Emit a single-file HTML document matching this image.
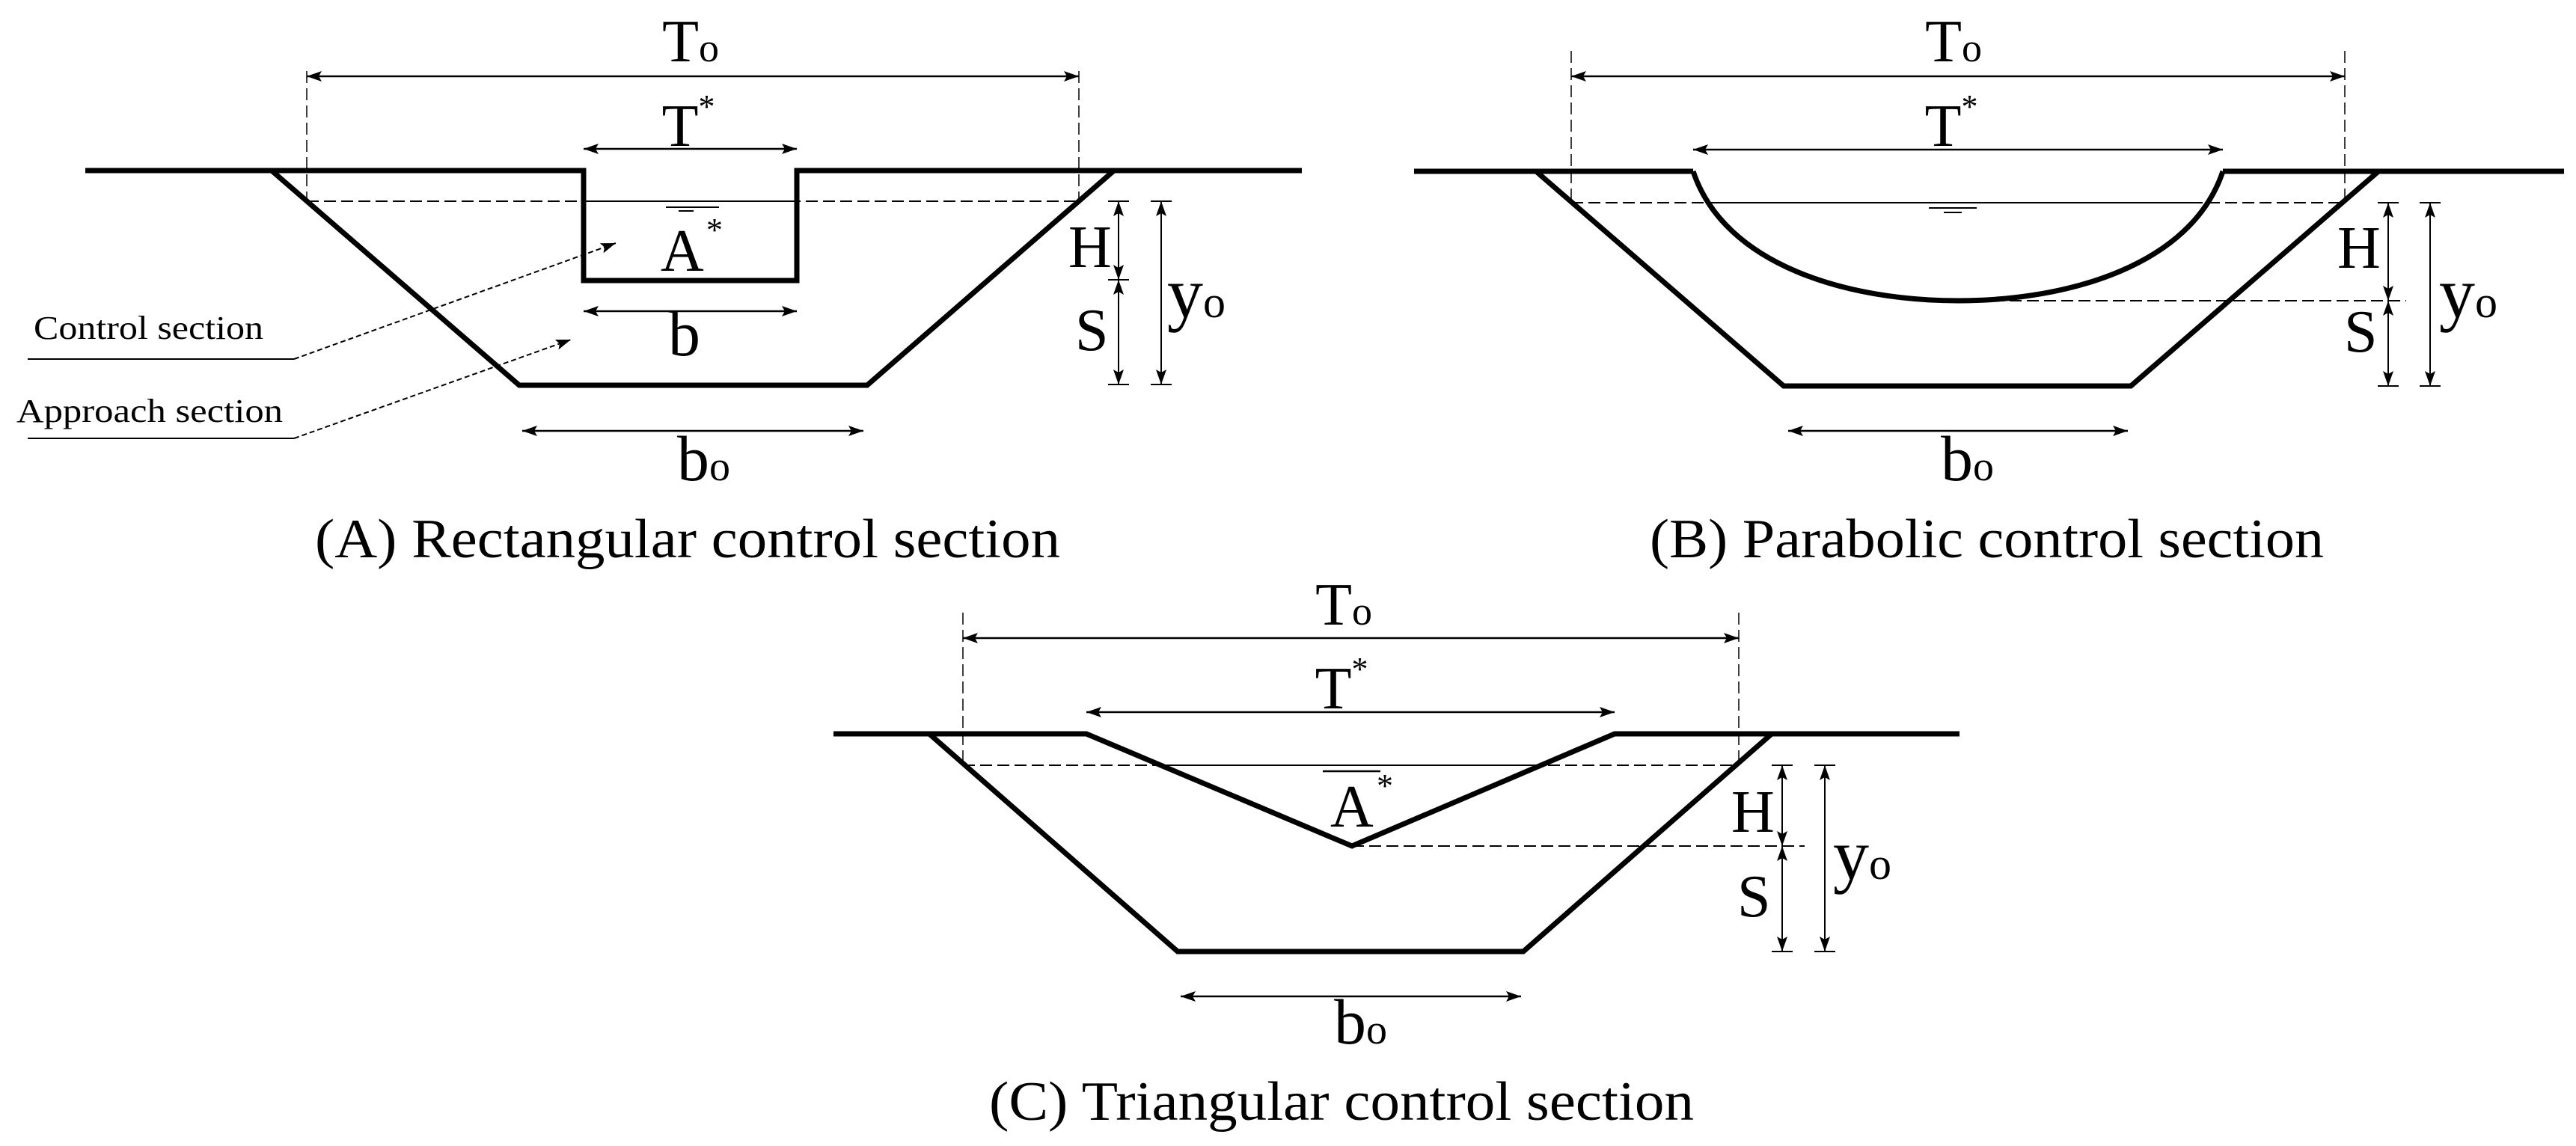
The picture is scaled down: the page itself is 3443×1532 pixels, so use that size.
<!DOCTYPE html>
<html><head><meta charset="utf-8"><style>
html,body{margin:0;padding:0;background:#fff;}
svg{display:block;}
</style></head><body>
<svg width="3443" height="1532" viewBox="0 0 3443 1532" xmlns="http://www.w3.org/2000/svg" font-family="'Liberation Serif', 'Times New Roman', Times, serif">
<defs>
<marker id="ae" markerWidth="22" markerHeight="16" refX="20" refY="8" orient="auto" markerUnits="userSpaceOnUse">
<path d="M0,1 L20,8 L0,15 L4,8 Z" fill="#000"/></marker>
<marker id="as" markerWidth="22" markerHeight="16" refX="2" refY="8" orient="auto" markerUnits="userSpaceOnUse">
<path d="M22,1 L2,8 L22,15 L18,8 Z" fill="#000"/></marker>
</defs>
<g fill="none" stroke="#000" stroke-linejoin="miter">
<!-- Panel A -->
<polyline points="114,228 780,228 780,375 1065,375 1065,228 1740,228" stroke-width="7"/>
<polyline points="363,228 694,515 1159,515 1489,228" stroke-width="7"/>
<line x1="410" y1="269" x2="1442" y2="269" stroke-width="2" stroke-dasharray="16,7"/>
<line x1="780" y1="269" x2="1065" y2="269" stroke-width="2"/>
<line x1="410" y1="95" x2="410" y2="269" stroke-width="1.5" stroke-dasharray="16,7"/>
<line x1="1442" y1="95" x2="1442" y2="269" stroke-width="1.5" stroke-dasharray="16,7"/>
<line x1="410" y1="102" x2="1442" y2="102" stroke-width="2.5" marker-start="url(#as)" marker-end="url(#ae)"/>
<line x1="780" y1="199" x2="1065" y2="199" stroke-width="2.5" marker-start="url(#as)" marker-end="url(#ae)"/>
<line x1="780" y1="416" x2="1065" y2="416" stroke-width="2.5" marker-start="url(#as)" marker-end="url(#ae)"/>
<line x1="698" y1="576" x2="1154" y2="576" stroke-width="2.5" marker-start="url(#as)" marker-end="url(#ae)"/>
<line x1="890" y1="277" x2="961" y2="277" stroke-width="2"/>
<line x1="907" y1="282" x2="927" y2="282" stroke-width="2"/>
<line x1="1495" y1="269" x2="1495" y2="374" stroke-width="2" marker-start="url(#as)" marker-end="url(#ae)"/>
<line x1="1495" y1="374" x2="1495" y2="514" stroke-width="2" marker-start="url(#as)" marker-end="url(#ae)"/>
<line x1="1552" y1="269" x2="1552" y2="514" stroke-width="2" marker-start="url(#as)" marker-end="url(#ae)"/>
<path d="M1481,269h28M1481,374h28M1481,514h28M1538,269h28M1538,514h28" stroke-width="2"/>
<polyline points="37,480 393,480" stroke-width="2"/>
<line x1="393" y1="480" x2="823" y2="325" stroke-width="2" stroke-dasharray="7,4" marker-end="url(#ae)"/>
<polyline points="37,586 393,586" stroke-width="2"/>
<line x1="393" y1="586" x2="763" y2="454" stroke-width="2" stroke-dasharray="7,4" marker-end="url(#ae)"/>

<!-- Panel B -->
<polyline points="1890,229 2263,229" stroke-width="7"/>
<polyline points="2971,229 3427,229" stroke-width="7"/>
<path d="M2263,229 C2305,355 2470,402 2617,402 C2764,402 2929,355 2971,229" stroke-width="7"/>
<polyline points="2053,229 2384,516 2848,516 3179,229" stroke-width="7"/>
<line x1="2100" y1="271" x2="3135" y2="271" stroke-width="2" stroke-dasharray="16,7"/>
<line x1="2290" y1="271" x2="2944" y2="271" stroke-width="2"/>
<line x1="2617" y1="402" x2="3216" y2="402" stroke-width="2" stroke-dasharray="16,7"/>
<line x1="2100" y1="68" x2="2100" y2="271" stroke-width="1.5" stroke-dasharray="16,7"/>
<line x1="3134" y1="68" x2="3134" y2="271" stroke-width="1.5" stroke-dasharray="16,7"/>
<line x1="2100" y1="102" x2="3134" y2="102" stroke-width="2.5" marker-start="url(#as)" marker-end="url(#ae)"/>
<line x1="2263" y1="200" x2="2971" y2="200" stroke-width="2.5" marker-start="url(#as)" marker-end="url(#ae)"/>
<line x1="2390" y1="576" x2="2844" y2="576" stroke-width="2.5" marker-start="url(#as)" marker-end="url(#ae)"/>
<line x1="2578" y1="278" x2="2642" y2="278" stroke-width="2"/>
<line x1="2598" y1="284" x2="2622" y2="284" stroke-width="2"/>
<line x1="3192" y1="271" x2="3192" y2="402" stroke-width="2" marker-start="url(#as)" marker-end="url(#ae)"/>
<line x1="3192" y1="402" x2="3192" y2="516" stroke-width="2" marker-start="url(#as)" marker-end="url(#ae)"/>
<line x1="3248" y1="271" x2="3248" y2="516" stroke-width="2" marker-start="url(#as)" marker-end="url(#ae)"/>
<path d="M3178,271h28M3178,516h28M3234,271h28M3234,516h28" stroke-width="2"/>

<!-- Panel C -->
<polyline points="1114,981 1452,981 1807,1131 2158,981 2619,981" stroke-width="7"/>
<polyline points="1242,981 1574,1272 2036,1272 2368,981" stroke-width="7"/>
<line x1="1287" y1="1023" x2="2324" y2="1023" stroke-width="2" stroke-dasharray="16,7"/>
<line x1="1550" y1="1023" x2="2060" y2="1023" stroke-width="2"/>
<line x1="1807" y1="1131" x2="2412" y2="1131" stroke-width="2" stroke-dasharray="16,7"/>
<line x1="1287" y1="819" x2="1287" y2="1023" stroke-width="1.5" stroke-dasharray="16,7"/>
<line x1="2324" y1="819" x2="2324" y2="1023" stroke-width="1.5" stroke-dasharray="16,7"/>
<line x1="1287" y1="853" x2="2324" y2="853" stroke-width="2.5" marker-start="url(#as)" marker-end="url(#ae)"/>
<line x1="1452" y1="952" x2="2158" y2="952" stroke-width="2.5" marker-start="url(#as)" marker-end="url(#ae)"/>
<line x1="1578" y1="1332" x2="2033" y2="1332" stroke-width="2.5" marker-start="url(#as)" marker-end="url(#ae)"/>
<line x1="1768" y1="1031" x2="1845" y2="1031" stroke-width="2.5"/>
<line x1="2382" y1="1023" x2="2382" y2="1131" stroke-width="2" marker-start="url(#as)" marker-end="url(#ae)"/>
<line x1="2382" y1="1131" x2="2382" y2="1272" stroke-width="2" marker-start="url(#as)" marker-end="url(#ae)"/>
<line x1="2439" y1="1023" x2="2439" y2="1272" stroke-width="2" marker-start="url(#as)" marker-end="url(#ae)"/>
<path d="M2368,1023h28M2368,1272h28M2425,1023h28M2425,1272h28" stroke-width="2"/>
</g>

<g fill="#000">
<!-- Text A -->
<text x="923" y="82" font-size="80" text-anchor="middle">T<tspan font-size="54">o</tspan></text>
<text x="920" y="195" font-size="80" text-anchor="middle">T<tspan font-size="44" dy="-38">*</tspan></text>
<text x="883" y="362" font-size="80">A</text>
<text x="944" y="322" font-size="44">*</text>
<text x="893" y="475" font-size="86">b</text>
<text x="905" y="642" font-size="86">b<tspan font-size="56">o</tspan></text>
<text x="1428" y="357" font-size="80">H</text>
<text x="1437" y="468" font-size="80">S</text>
<text x="1560" y="424" font-size="96">y<tspan font-size="60">o</tspan></text>
<text x="45" y="453" font-size="44" textLength="307" lengthAdjust="spacingAndGlyphs">Control section</text>
<text x="22" y="564" font-size="44" textLength="356" lengthAdjust="spacingAndGlyphs">Approach section</text>
<text x="421" y="745" font-size="74" textLength="996" lengthAdjust="spacingAndGlyphs">(A) Rectangular control section</text>

<!-- Text B -->
<text x="2611" y="82" font-size="80" text-anchor="middle">T<tspan font-size="54">o</tspan></text>
<text x="2608" y="195" font-size="80" text-anchor="middle">T<tspan font-size="44" dy="-38">*</tspan></text>
<text x="2594" y="642" font-size="86">b<tspan font-size="56">o</tspan></text>
<text x="3124" y="358" font-size="80">H</text>
<text x="3133" y="470" font-size="80">S</text>
<text x="3260" y="424" font-size="96">y<tspan font-size="60">o</tspan></text>
<text x="2205" y="745" font-size="74" textLength="901" lengthAdjust="spacingAndGlyphs">(B) Parabolic control section</text>

<!-- Text C -->
<text x="1796" y="835" font-size="80" text-anchor="middle">T<tspan font-size="54">o</tspan></text>
<text x="1793" y="947" font-size="80" text-anchor="middle">T<tspan font-size="44" dy="-38">*</tspan></text>
<text x="1778" y="1105" font-size="80">A</text>
<text x="1840" y="1065" font-size="44">*</text>
<text x="1783" y="1395" font-size="86">b<tspan font-size="56">o</tspan></text>
<text x="2314" y="1112" font-size="80">H</text>
<text x="2322" y="1225" font-size="80">S</text>
<text x="2450" y="1175" font-size="96">y<tspan font-size="60">o</tspan></text>
<text x="1322" y="1497" font-size="74" textLength="942" lengthAdjust="spacingAndGlyphs">(C) Triangular control section</text>
</g>
</svg>
</body></html>
